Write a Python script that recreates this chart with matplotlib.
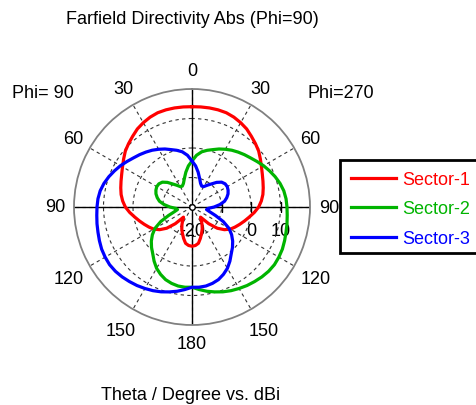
import numpy as np
import matplotlib
matplotlib.use("Agg")
import matplotlib.pyplot as plt
from matplotlib.patches import Rectangle

plt.rcParams['font.family'] = ['Liberation Sans', 'DejaVu Sans']

# theta cut in degrees, values in dBi
theta = list(range(0, 181, 5))

# Sector-1 is symmetric: same on the Phi=90 and Phi=270 half
sector1 = [14.0, 14.05, 14.1, 14.1, 14.0, 13.6, 13.0, 12.3, 11.3, 10.4,
           9.5, 8.3, 7.2, 6.3, 5.6, 5.0, 4.4, 3.6, 2.6, 1.2,
           -0.3, -1.6, -2.8, -3.9, -5.0, -6.6, -8.8, -12.0, -15.5, -14.5,
           -13.2, -11.8, -10.5, -9.0, -7.5, -6.9, -6.7]

sector2_phi90 = [-4.4, -6.0, -8.0, -10.0, -11.5, -12.2, -12.0, -11.0, -9.8, -8.2,
                 -6.9, -6.3, -6.2, -6.5, -7.0, -7.8, -8.8, -10.5, -12.5, -14.5,
                 -15.0, -13.8, -11.5, -8.3, -5.5, -3.6, -2.0, -0.6, 0.7, 2.4,
                 4.0, 5.2, 6.2, 6.8, 7.2, 7.3, 7.2]
sector2_phi270 = [-4.4, -2.4, -1.0, -0.1, 0.7, 1.7, 2.6, 3.5, 4.3, 5.1,
                  5.9, 6.9, 8.0, 9.0, 10.0, 10.9, 11.6, 12.0, 12.2, 12.4,
                  12.7, 13.0, 13.4, 13.8, 14.0, 14.1, 13.9, 13.5, 13.0, 12.5,
                  11.9, 11.3, 10.6, 9.8, 9.0, 8.1, 7.2]

sector3_phi90 = [-4.4, -2.4, -1.0, -0.1, 0.7, 1.7, 2.6, 3.5, 4.3, 5.1,
                 5.9, 6.9, 8.0, 9.0, 10.0, 10.9, 11.6, 12.0, 12.2, 12.4,
                 12.7, 13.0, 13.4, 13.8, 14.0, 14.1, 13.9, 13.5, 13.0, 12.5,
                 11.9, 11.3, 10.6, 9.8, 9.0, 8.1, 7.2]
sector3_phi270 = [-4.4, -6.0, -8.0, -10.0, -11.5, -12.2, -12.0, -11.0, -9.8, -8.2,
                  -6.9, -6.3, -6.2, -6.5, -7.0, -7.8, -8.8, -10.5, -12.5, -14.5,
                  -15.0, -13.8, -11.5, -8.3, -5.5, -3.6, -2.0, -0.6, 0.7, 2.4,
                  4.0, 5.2, 6.2, 6.8, 7.2, 7.3, 7.2]

names = ["Sector-1", "Sector-2", "Sector-3"]
colors = ["#ff0000", "#00b400", "#0000ff"]

angle_ticks = [0, 30, 60, 90, 120, 150, 180, 210, 240, 270, 300, 330]
angle_labels = ["0", "30", "60", "90", "120", "150", "180", "150", "120", "90", "60", "30"]
r_ticks = [-10, 0, 10]
r_labels = ["-20", "0", "10"]
r_label_pos = [-20, 0, 10]


def full_cut(phi90, phi270):
    # left half: psi = theta, right half: psi = 360 - theta
    t = np.array(theta, dtype=float)
    psi = np.concatenate([t, (360 - t)[::-1]])
    vals = np.concatenate([np.array(phi90), np.array(phi270)[::-1]])
    return np.radians(psi), vals


fig = plt.figure(figsize=(4.76, 4.06), dpi=100)
W, H = 476, 406
cx, cy, R = 192, 208, 118
ax = fig.add_axes([(cx - R) / W, (H - cy - R) / H, 2 * R / W, 2 * R / H], projection='polar')
ax.set_theta_zero_location('N')
ax.set_theta_direction(1)
ax.set_ylim(-20, 20)

ax.set_xticks(np.radians(angle_ticks))
ax.set_xticklabels([])
ax.set_yticks(r_ticks)
ax.set_yticklabels([])
ax.tick_params(axis='x', direction='in', length=4, width=1, color='black')
ax.tick_params(axis='y', length=0)
ax.grid(True, color='#333333', linestyle=(0, (3, 3)), linewidth=0.8)
ax.spines['polar'].set_color('#808080')
ax.spines['polar'].set_linewidth(1.3)

# solid axis lines through the centre
for a in [0, 90, 180, 270]:
    ax.plot([np.radians(a), np.radians(a)], [-20, 20], color='black', lw=1.0, zorder=2)
ax.plot([0], [-20], marker='o', ms=4, mfc='white', mec='black', mew=1, zorder=2)
ax.plot(np.radians([270] * len(r_ticks)), r_ticks, ls='none', marker='|', ms=7,
        mew=1, color='black', zorder=2)

curves = [full_cut(sector1, sector1),
          full_cut(sector2_phi90, sector2_phi270),
          full_cut(sector3_phi90, sector3_phi270)]
for (psi, vals), name, c in zip(curves, names, colors):
    ax.plot(psi, vals, color=c, lw=2.3, label=name, zorder=4)

# theta labels around the circle
for a, lab in zip(angle_ticks, angle_labels):
    rr = 28.3 if len(lab) == 3 and a != 180 else 26.4
    ax.text(np.radians(a), rr, lab, ha='center', va='center', fontsize=13, clip_on=False)

# dB labels below the horizontal axis
for rv, lab in zip(r_label_pos, r_labels):
    ax.annotate(lab, xy=(np.radians(270), rv), xytext=(0, -23), textcoords='offset pixels',
                ha='center', va='center', fontsize=13, zorder=1)

fig.text(cx / W, 1 - 20 / H, "Farfield Directivity Abs (Phi=90)", ha='center', va='center', fontsize=13)
fig.text(43 / W, 1 - 93 / H, "Phi= 90", ha='center', va='center', fontsize=13)
fig.text(341 / W, 1 - 93 / H, "Phi=270", ha='center', va='center', fontsize=13)
fig.text(191 / W, 1 - 396 / H, "Theta / Degree vs. dBi", ha='center', va='center', fontsize=13)

# legend frame runs past the right edge of the picture
box = Rectangle((340 / W, 1 - 254 / H), 170 / W, 93 / H, transform=fig.transFigure,
                facecolor='white', edgecolor='black', lw=2, zorder=-1)
fig.add_artist(box)
leg = ax.legend(loc='upper left', bbox_to_anchor=(340 / W, 1 - 161 / H),
                bbox_transform=fig.transFigure, frameon=False, fontsize=13,
                handlelength=2.5, handletextpad=0.35, labelspacing=0.7, borderpad=0.6,
                labelcolor='linecolor', borderaxespad=0)

fig.savefig("out.png", dpi=100)
